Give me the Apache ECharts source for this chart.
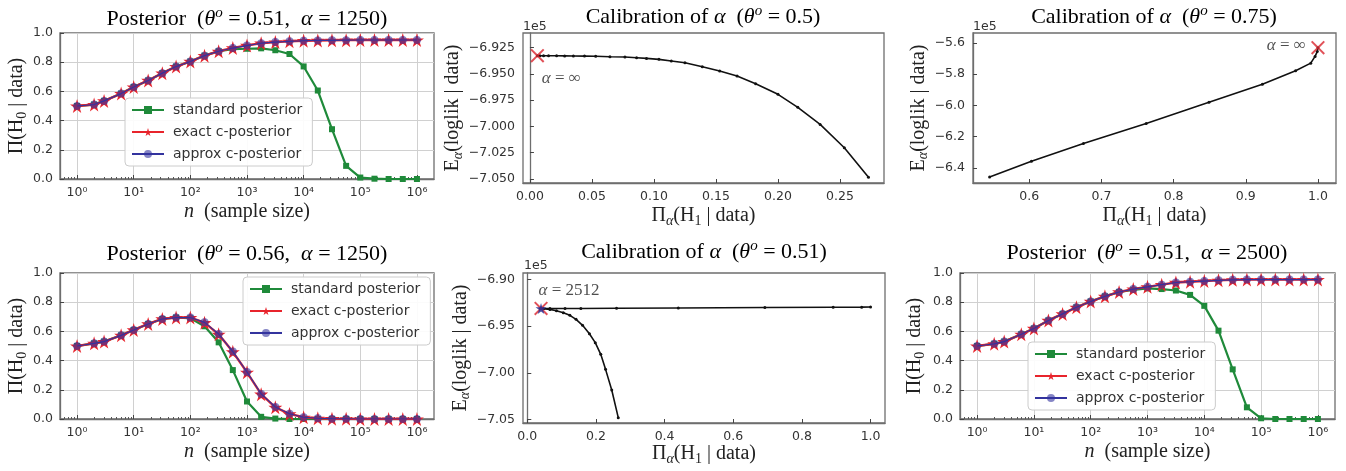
<!DOCTYPE html>
<html>
<head>
<meta charset="utf-8">
<script src="https://cdn.jsdelivr.net/npm/echarts@6/dist/echarts.min.js"></script>
<style>
html, body { margin: 0; padding: 0; background: #fff; }
#container { width: 1346px; height: 471px; }
</style>
</head>
<body>
<div id="container"></div>
<script>
// sample sizes, log-spaced (rounded 10^(k/4))
var sampleSizes = [1, 2, 3, 6, 10, 18, 32, 56, 100, 178, 316, 562, 1000, 1778, 3162,
    5623, 10000, 17783, 31623, 56234, 100000, 177828, 316228, 562341, 1000000];

// posterior, theta=0.51, alpha=1250
var std051a = [0.50, 0.51, 0.535, 0.585, 0.63, 0.675, 0.725, 0.77, 0.805, 0.845, 0.875, 0.89, 0.892,
    0.895, 0.882, 0.856, 0.771, 0.606, 0.341, 0.09, 0.01, 0.002, 0, 0, 0];
var exact051a = [0.50, 0.51, 0.535, 0.585, 0.63, 0.675, 0.725, 0.77, 0.805, 0.845, 0.875, 0.898, 0.915,
    0.93, 0.938, 0.943, 0.947, 0.949, 0.95, 0.951, 0.952, 0.952, 0.952, 0.952, 0.952];
var approx051a = [0.50, 0.51, 0.535, 0.585, 0.63, 0.675, 0.725, 0.77, 0.805, 0.845, 0.875, 0.897, 0.914,
    0.93, 0.938, 0.943, 0.947, 0.949, 0.95, 0.951, 0.952, 0.952, 0.952, 0.952, 0.952];

// posterior, theta=0.56, alpha=1250
var std056 = [0.50, 0.518, 0.53, 0.573, 0.61, 0.651, 0.685, 0.695, 0.69, 0.635, 0.525, 0.335, 0.12,
    0.015, 0.003, 0, 0, 0, 0, 0, 0, 0, 0, 0, 0];
var exact056 = [0.50, 0.518, 0.53, 0.573, 0.61, 0.651, 0.685, 0.695, 0.695, 0.66, 0.58, 0.46, 0.32,
    0.17, 0.08, 0.035, 0.012, 0.005, 0.002, 0.001, 0, 0, 0, 0, 0];
var approx056 = [0.50, 0.518, 0.53, 0.573, 0.61, 0.651, 0.685, 0.695, 0.695, 0.662, 0.582, 0.462, 0.322,
    0.172, 0.082, 0.036, 0.012, 0.005, 0.002, 0.001, 0, 0, 0, 0, 0];

// posterior, theta=0.51, alpha=2500
var std051b = [0.50, 0.515, 0.53, 0.58, 0.62, 0.675, 0.72, 0.765, 0.805, 0.84, 0.87, 0.885, 0.895,
    0.89, 0.88, 0.85, 0.775, 0.605, 0.34, 0.08, 0.005, 0, 0, 0, 0];
var exact051b = [0.50, 0.515, 0.53, 0.58, 0.62, 0.675, 0.72, 0.765, 0.805, 0.84, 0.87, 0.89, 0.905,
    0.92, 0.935, 0.94, 0.945, 0.95, 0.953, 0.955, 0.955, 0.955, 0.955, 0.955, 0.955];
var approx051b = [0.50, 0.515, 0.53, 0.58, 0.62, 0.675, 0.72, 0.765, 0.805, 0.84, 0.87, 0.89, 0.905,
    0.92, 0.935, 0.94, 0.945, 0.95, 0.953, 0.955, 0.955, 0.955, 0.955, 0.955, 0.955];

// calibration of alpha, theta=0.5 (y in units of 1e5)
var calib050X = [0.006, 0.008, 0.011, 0.015, 0.0215, 0.028, 0.035, 0.044, 0.053, 0.0645, 0.0766, 0.086,
    0.094, 0.104, 0.114, 0.125, 0.139, 0.153, 0.167, 0.182, 0.200, 0.216, 0.234, 0.2535, 0.273];
var calib050Y = [-6.9326, -6.9326, -6.9326, -6.9327, -6.9327, -6.9328, -6.9329, -6.9330, -6.9332,
    -6.9336, -6.9339, -6.9345, -6.9352, -6.9361, -6.9377, -6.9393, -6.9431, -6.9472, -6.9520,
    -6.9593, -6.9694, -6.9818, -6.9980, -7.0202, -7.0484];
var best050 = [0.006, -6.9326];

// calibration of alpha, theta=0.75
var calib075X = [0.545, 0.603, 0.675, 0.762, 0.849, 0.923, 0.969, 0.990, 0.996, 0.999, 1.0];
var calib075Y = [-6.458, -6.357, -6.244, -6.115, -5.980, -5.864, -5.778, -5.729, -5.686, -5.655, -5.630];
var best075 = [1.0, -5.630];

// calibration of alpha, theta=0.51 (two branches)
var calib051CurveX = [0.04, 0.047, 0.066, 0.085, 0.105, 0.124, 0.142, 0.161, 0.181, 0.198, 0.214,
    0.228, 0.246, 0.265];
var calib051CurveY = [-6.931, -6.9313, -6.9320, -6.9334, -6.9356, -6.9384, -6.9427, -6.9491, -6.9581,
    -6.9677, -6.9802, -6.9963, -7.0184, -7.0481];
var calib051FlatX = [0.04, 0.066, 0.11, 0.156, 0.26, 0.44, 0.692, 0.891, 0.974, 1.0];
var calib051FlatY = [-6.931, -6.931, -6.931, -6.931, -6.9308, -6.9305, -6.930, -6.9297, -6.9296, -6.9295];
var best051 = [0.04, -6.931];

// tick labels
var logTicks = [1, 10, 100, 1000, 10000, 100000, 1000000];
var calib050XTicks = [0, 0.05, 0.10, 0.15, 0.20, 0.25];
var calib050YTicks = [-7.05, -7.025, -7.0, -6.975, -6.95, -6.925];
var calib075XTicks = [0.6, 0.7, 0.8, 0.9, 1.0];
var calib075YTicks = [-6.4, -6.2, -6.0, -5.8, -5.6];
var calib051XTicks = [0, 0.2, 0.4, 0.6, 0.8, 1.0];
var calib051YTicks = [-7.05, -7.0, -6.95, -6.90];

var SERIF = 'Liberation Serif';
var SANS = 'DejaVu Sans';
var GREEN = '#1f8a3a';
var RED = '#e8242c';
var BLUE = '#33339e';
var FRAME = '#6e6e6e';
var INK = '#222';

// minor ticks of the log axes (2..9 x 10^k)
var minorLogTicks = [];
for (var k = -1; k <= 6; k++) {
    for (var m = 2; m <= 9; m++) {
        var v = m * Math.pow(10, k);
        if (v > 0.5 && v < 2e6) minorLogTicks.push(v);
    }
}

var starPath = 'path://M50,0 L61,35 L98,35 L68,57 L79,91 L50,70 L21,91 L32,57 L2,35 L39,35 Z';
var crossPath = 'path://M0,1 L1,0 L5,4 L9,0 L10,1 L6,5 L10,9 L9,10 L5,6 L1,10 L0,9 L4,5 Z';

var supDigits = ['⁰', '¹', '²', '³', '⁴', '⁵', '⁶'];
function minusFmt(dec) {
    return function (v) { return v.toFixed(dec).replace('-', '\u2212'); };
}

var textRich = {
    r: { fontFamily: SERIF, fontSize: 20, color: INK, lineHeight: 24 },
    i: { fontFamily: SERIF, fontSize: 20, fontStyle: 'italic', color: INK, lineHeight: 24 },
    sub: { fontFamily: SERIF, fontSize: 14, color: INK, verticalAlign: 'bottom', lineHeight: 16 },
    isub: { fontFamily: SERIF, fontSize: 14, fontStyle: 'italic', color: INK, verticalAlign: 'bottom', lineHeight: 16 }
};

var grids = [
    { left: 60, top: 33, width: 374, height: 146 },
    { left: 523, top: 33, width: 361, height: 150 },
    { left: 973, top: 33, width: 363, height: 150 },
    { left: 60, top: 273, width: 374, height: 146 },
    { left: 523, top: 273, width: 362, height: 150 },
    { left: 960, top: 273, width: 375, height: 146 }
].map(function (g) {
    return Object.assign({ show: true, borderColor: FRAME, borderWidth: 1.3, backgroundColor: '#fff' }, g);
});

var tickLabel = { color: '#333', fontFamily: SANS, fontSize: 12.5 };

function valueAxis(gridIdx, min, max, ticks, dec, name, gap, isY) {
    return {
        type: 'value', gridIndex: gridIdx, min: min, max: max, scale: true,
        name: name, nameLocation: 'middle', nameGap: gap,
        nameTextStyle: { rich: textRich },
        axisLine: { show: true, lineStyle: { color: FRAME, width: 1.3 } },
        axisTick: { show: true, inside: true, length: 4, customValues: ticks, lineStyle: { color: '#444' } },
        axisLabel: Object.assign({ customValues: ticks, formatter: minusFmt(dec), margin: isY ? 8 : 7 }, tickLabel),
        splitLine: { show: false }
    };
}

function probAxis(gridIdx, gap) {
    return {
        type: 'value', gridIndex: gridIdx, min: 0, max: 1, interval: 0.2,
        name: '{r|Π(H}{sub|0}{r| | data)}', nameLocation: 'middle', nameGap: gap,
        nameTextStyle: { rich: textRich },
        axisLine: { show: true, lineStyle: { color: FRAME, width: 1.3 } },
        axisTick: { show: true, inside: true, length: 4, lineStyle: { color: '#444' } },
        axisLabel: Object.assign({ formatter: function (v) { return v.toFixed(1); }, margin: 7 }, tickLabel),
        splitLine: { show: true, lineStyle: { color: '#d0d0d0', width: 1 } }
    };
}

function logAxis(gridIdx) {
    return {
        type: 'log', logBase: 10, gridIndex: gridIdx, min: 0.5, max: 2e6, position: 'bottom',
        name: '{i|n}{r|  (sample size)}', nameLocation: 'middle', nameGap: 21,
        nameTextStyle: { rich: textRich },
        axisLine: { show: true, lineStyle: { color: FRAME, width: 1.3 } },
        axisTick: { show: true, inside: true, length: 4, customValues: logTicks, lineStyle: { color: '#444' } },
        axisLabel: Object.assign({
            customValues: logTicks, margin: 7,
            formatter: function (v) { return '10' + supDigits[Math.round(Math.log10(v))]; }
        }, tickLabel),
        splitLine: { show: true, lineStyle: { color: '#d0d0d0', width: 1 } }
    };
}

function minorLogAxis(gridIdx) {
    return {
        type: 'log', logBase: 10, gridIndex: gridIdx, min: 0.5, max: 2e6, position: 'bottom',
        axisLine: { show: false },
        axisTick: { show: true, inside: true, length: 2, customValues: minorLogTicks, lineStyle: { color: '#555' } },
        axisLabel: { show: false },
        splitLine: { show: false }
    };
}

var calibXName = '{r|Π}{isub|α}{r|(H}{sub|1}{r| | data)}';
var calibYName = '{r|E}{isub|α}{r|(loglik | data)}';

var xAxes = [
    logAxis(0), minorLogAxis(0),
    valueAxis(1, -0.0056, 0.2855, calib050XTicks, 2, calibXName, 21, false),
    valueAxis(2, 0.522, 1.025, calib075XTicks, 1, calibXName, 21, false),
    logAxis(3), minorLogAxis(3),
    valueAxis(4, -0.0125, 1.042, calib051XTicks, 1, calibXName, 19, false),
    logAxis(5), minorLogAxis(5)
];
var yAxes = [
    probAxis(0, 26),
    valueAxis(1, -7.0538, -6.911, calib050YTicks, 3, calibYName, 43, true),
    valueAxis(2, -6.4966, -5.536, calib075YTicks, 1, calibYName, 38, true),
    probAxis(3, 26),
    valueAxis(4, -7.0538, -6.893, calib051YTicks, 2, calibYName, 45, true),
    probAxis(5, 33)
];

function pairs(xs, ys) {
    return xs.map(function (x, i) { return [x, ys[i]]; });
}

function posteriorSeries(xIdx, yIdx, std, exact, approx) {
    return [
        {
            name: 'standard posterior', type: 'line', xAxisIndex: xIdx, yAxisIndex: yIdx,
            data: pairs(sampleSizes, std), symbol: 'rect', symbolSize: 6,
            lineStyle: { color: GREEN, width: 2.2 }, itemStyle: { color: GREEN }, z: 3
        },
        {
            name: 'exact c-posterior', type: 'line', xAxisIndex: xIdx, yAxisIndex: yIdx,
            data: pairs(sampleSizes, exact), symbol: starPath, symbolSize: 14,
            lineStyle: { color: RED, width: 2.4 }, itemStyle: { color: RED }, z: 4
        },
        {
            name: 'approx c-posterior', type: 'line', xAxisIndex: xIdx, yAxisIndex: yIdx,
            data: pairs(sampleSizes, approx), symbol: 'circle', symbolSize: 8,
            lineStyle: { color: BLUE, width: 1.2 }, itemStyle: { color: BLUE, opacity: 0.6 }, z: 5
        }
    ];
}

function calibSeries(xIdx, yIdx, xs, ys) {
    return {
        type: 'line', xAxisIndex: xIdx, yAxisIndex: yIdx, data: pairs(xs, ys),
        symbol: 'circle', symbolSize: 3, showSymbol: true, smooth: false,
        lineStyle: { color: '#111', width: 1.6 }, itemStyle: { color: '#111' }, z: 3
    };
}

function bestMarker(xIdx, yIdx, point, text, pos, offset) {
    return {
        type: 'scatter', xAxisIndex: xIdx, yAxisIndex: yIdx, data: [point],
        symbol: crossPath, symbolSize: 14, itemStyle: { color: '#d9262e' }, z: 6,
        label: {
            show: true, position: pos, offset: offset, formatter: text,
            rich: {
                r: { fontFamily: SERIF, fontSize: 17, color: INK },
                i: { fontFamily: SERIF, fontSize: 17, fontStyle: 'italic', color: INK }
            }
        }
    };
}

var series = [].concat(
    posteriorSeries(0, 0, std051a, exact051a, approx051a),
    [calibSeries(2, 1, calib050X, calib050Y),
     bestMarker(2, 1, best050, '{i|α}{r| = ∞}', 'bottom', [24, 2])],
    [calibSeries(3, 2, calib075X, calib075Y),
     bestMarker(3, 2, best075, '{i|α}{r| = ∞}', 'left', [0, -2])],
    posteriorSeries(4, 3, std056, exact056, approx056),
    [calibSeries(6, 4, calib051FlatX, calib051FlatY),
     calibSeries(6, 4, calib051CurveX, calib051CurveY),
     bestMarker(6, 4, best051, '{i|α}{r| = 2512}', 'top', [28, 3]),
     {
        type: 'scatter', xAxisIndex: 6, yAxisIndex: 4, data: [best051],
        symbol: starPath, symbolSize: 11, itemStyle: { color: '#2b2b8e', opacity: 0.85 }, z: 7
     }],
    posteriorSeries(7, 5, std051b, exact051b, approx051b)
);

var legendNames = ['standard posterior', 'exact c-posterior', 'approx c-posterior'];
function legendAt(left, top) {
    return {
        orient: 'vertical', left: left, top: top, data: legendNames,
        itemWidth: 32, itemHeight: 10, itemGap: 6, selectedMode: false,
        backgroundColor: 'rgba(255,255,255,0.9)', borderColor: '#cccccc', borderWidth: 1,
        borderRadius: 4, padding: [4, 10, 4, 6],
        textStyle: { fontFamily: SANS, fontSize: 14, color: '#333', lineHeight: 16, padding: [0, 0, 0, 4] }
    };
}

function titleText(cx, cy, text) {
    return {
        type: 'text', x: cx, y: cy, z: 10,
        style: {
            text: text, align: 'center', verticalAlign: 'middle',
            rich: {
                r: { fontFamily: SERIF, fontSize: 22, color: INK, lineHeight: 26 },
                i: { fontFamily: SERIF, fontSize: 22, fontStyle: 'italic', color: INK, lineHeight: 26 },
                sup: { fontFamily: SERIF, fontSize: 15, fontStyle: 'italic', color: INK, verticalAlign: 'top', lineHeight: 18 }
            }
        }
    };
}
function offsetText(x, y) {
    return {
        type: 'text', x: x, y: y, z: 10,
        style: { text: '1e5', fontFamily: SANS, fontSize: 12.5, fill: '#333', verticalAlign: 'middle' }
    };
}

var option = {
    animation: false,
    backgroundColor: '#fff',
    grid: grids,
    xAxis: xAxes,
    yAxis: yAxes,
    legend: [legendAt(125, 98), legendAt(243, 277), legendAt(1028, 342)],
    series: series,
    graphic: [
        titleText(247, 19, '{r|Posterior  (}{i|θ}{sup|o}{r| = 0.51,  }{i|α}{r| = 1250)}'),
        titleText(703, 17, '{r|Calibration of }{i|α}{r|  (}{i|θ}{sup|o}{r| = 0.5)}'),
        titleText(1154, 17, '{r|Calibration of }{i|α}{r|  (}{i|θ}{sup|o}{r| = 0.75)}'),
        titleText(247, 254, '{r|Posterior  (}{i|θ}{sup|o}{r| = 0.56,  }{i|α}{r| = 1250)}'),
        titleText(704, 252, '{r|Calibration of }{i|α}{r|  (}{i|θ}{sup|o}{r| = 0.51)}'),
        titleText(1147, 253, '{r|Posterior  (}{i|θ}{sup|o}{r| = 0.51,  }{i|α}{r| = 2500)}'),
        offsetText(523, 27),
        offsetText(973, 27),
        offsetText(524, 266)
    ]
};

var myChart = echarts.init(document.getElementById('container'), null, { renderer: 'canvas' });
myChart.setOption(option);
</script>
</body>
</html>
